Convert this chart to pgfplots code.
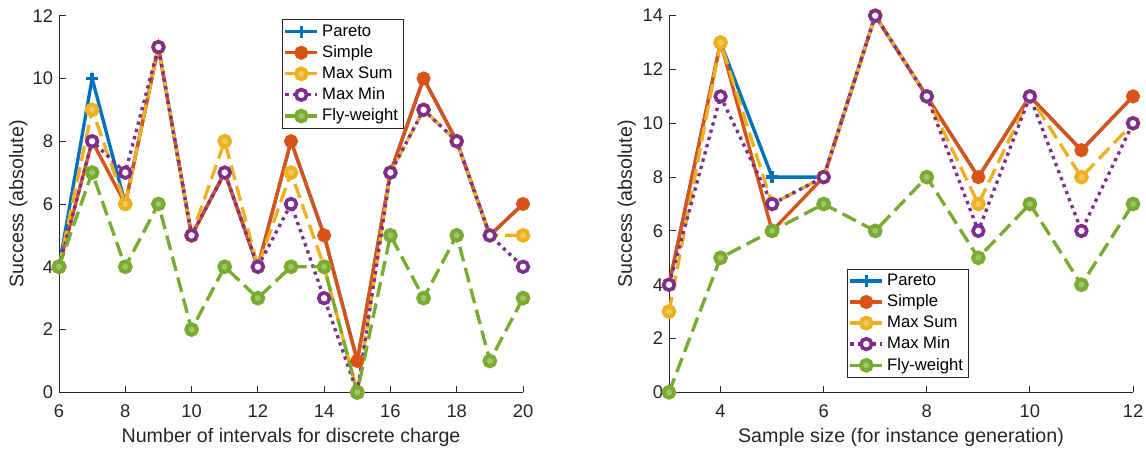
\documentclass[border=0pt]{standalone}
\usepackage{fontspec}
\setmainfont{Liberation Sans}
\usepackage{pgfplots}
\pgfplotsset{compat=1.18}
\definecolor{mblue}{rgb}{0,0.447,0.741}
\definecolor{morange}{rgb}{0.85,0.325,0.098}
\definecolor{myellow}{rgb}{0.929,0.694,0.125}
\definecolor{mpurple}{rgb}{0.494,0.184,0.556}
\definecolor{mgreen}{rgb}{0.466,0.674,0.188}
\definecolor{axgray}{rgb}{0.15,0.15,0.15}
\pgfplotsset{
  mstyle/.style={
    scale only axis, width=278.4pt, height=226pt,
    axis x line*=bottom, axis y line*=left,
    axis line style={-, color=axgray, line width=0.5pt},
    tick align=inside, major tick length=4pt,
    tick style={color=axgray, line width=0.5pt},
    ticklabel style={font=\fontsize{11}{13}\selectfont, color=axgray},
    xticklabel style={yshift=-4pt},
    label style={font=\fontsize{11.8}{14}\selectfont, color=axgray},
    /pgf/number format/assume math mode=true,
    every axis plot/.append style={line width=2pt},
    legend cell align=left,
    legend style={font=\fontsize{10}{12}\selectfont, draw=axgray, line width=0.5pt,
      inner sep=1pt, row sep=0pt, text=black, nodes={inner sep=2pt}},
    legend image code/.code={\draw[mark repeat=2,mark phase=2,#1] plot coordinates {(0pt,0pt) (9.5pt,0pt) (19pt,0pt)};},
  },
  spareto/.style={color=mblue, solid, mark=+, mark size=3.5pt, mark options={solid, line width=2pt}},
  ssimple/.style={color=morange, solid, mark=*, mark size=3.2pt, mark options={solid, fill=morange}},
  smaxsum/.style={color=myellow, dash pattern=on 9pt off 4pt, mark=*, mark size=3.2pt, mark options={solid, fill=myellow!70!white, line width=2.4pt}},
  smaxmin/.style={color=mpurple, dash pattern=on 2pt off 2.5pt, mark=*, mark size=3.2pt, mark options={solid, fill=white, line width=2.2pt}},
  sfly/.style={color=mgreen, dash pattern=on 9pt off 4pt, mark=*, mark size=3.2pt, mark options={solid, fill=mgreen!70!white, line width=2.4pt}},
}
\begin{document}
\begin{tikzpicture}
\path[use as bounding box] (0pt,0pt) rectangle (687.6pt,270pt);
\begin{axis}[mstyle,
  at={(35.4pt,34.6pt)}, anchor=south west,
  xmin=6, xmax=20, ymin=0, ymax=12,
  xtick={6,8,...,20}, ytick={0,2,...,12},
  xlabel={Number of intervals for discrete charge},
  ylabel={Success (absolute)},
  xlabel style={at={(axis description cs:0.5,-0.1186)}, anchor=center},
  ylabel style={at={(axis description cs:-0.088,0.5)}, anchor=center},
  legend style={at={(0.48,0.99)}, anchor=north west},
]
\addplot[spareto] coordinates {(6,4)(7,10)(8,6)(9,11)(10,5)(11,7)(12,4)(13,8)(14,5)(15,1)(16,7)(17,10)(18,8)(19,5)(20,6)};
\addplot[ssimple] coordinates {(6,4)(7,8)(8,6)(9,11)(10,5)(11,7)(12,4)(13,8)(14,5)(15,1)(16,7)(17,10)(18,8)(19,5)(20,6)};
\addplot[smaxsum] coordinates {(6,4)(7,9)(8,6)(9,11)(10,5)(11,8)(12,4)(13,7)(14,4)(15,0)(16,7)(17,9)(18,8)(19,5)(20,5)};
\addplot[smaxmin] coordinates {(6,4)(7,8)(8,7)(9,11)(10,5)(11,7)(12,4)(13,6)(14,3)(15,0)(16,7)(17,9)(18,8)(19,5)(20,4)};
\addplot[sfly] coordinates {(6,4)(7,7)(8,4)(9,6)(10,2)(11,4)(12,3)(13,4)(14,4)(15,0)(16,5)(17,3)(18,5)(19,1)(20,3)};
\legend{Pareto, Simple, Max Sum, Max Min, Fly-weight}
\end{axis}
\begin{axis}[mstyle,
  at={(401.4pt,34.6pt)}, anchor=south west,
  xmin=3, xmax=12, ymin=0, ymax=14,
  xtick={4,6,...,12}, ytick={0,2,...,14},
  xlabel={Sample size (for instance generation)},
  ylabel={Success (absolute)},
  xlabel style={at={(axis description cs:0.5,-0.1186)}, anchor=center},
  ylabel style={at={(axis description cs:-0.091,0.5)}, anchor=center},
  legend style={at={(0.383,0.038)}, anchor=south west},
]
\addplot[spareto] coordinates {(3,4)(4,13)(5,8)(6,8)(7,14)(8,11)(9,8)(10,11)(11,9)(12,11)};
\addplot[ssimple] coordinates {(3,4)(4,13)(5,6)(6,8)(7,14)(8,11)(9,8)(10,11)(11,9)(12,11)};
\addplot[smaxsum] coordinates {(3,3)(4,13)(5,7)(6,8)(7,14)(8,11)(9,7)(10,11)(11,8)(12,10)};
\addplot[smaxmin] coordinates {(3,4)(4,11)(5,7)(6,8)(7,14)(8,11)(9,6)(10,11)(11,6)(12,10)};
\addplot[sfly] coordinates {(3,0)(4,5)(5,6)(6,7)(7,6)(8,8)(9,5)(10,7)(11,4)(12,7)};
\legend{Pareto, Simple, Max Sum, Max Min, Fly-weight}
\end{axis}
\end{tikzpicture}
\end{document}
